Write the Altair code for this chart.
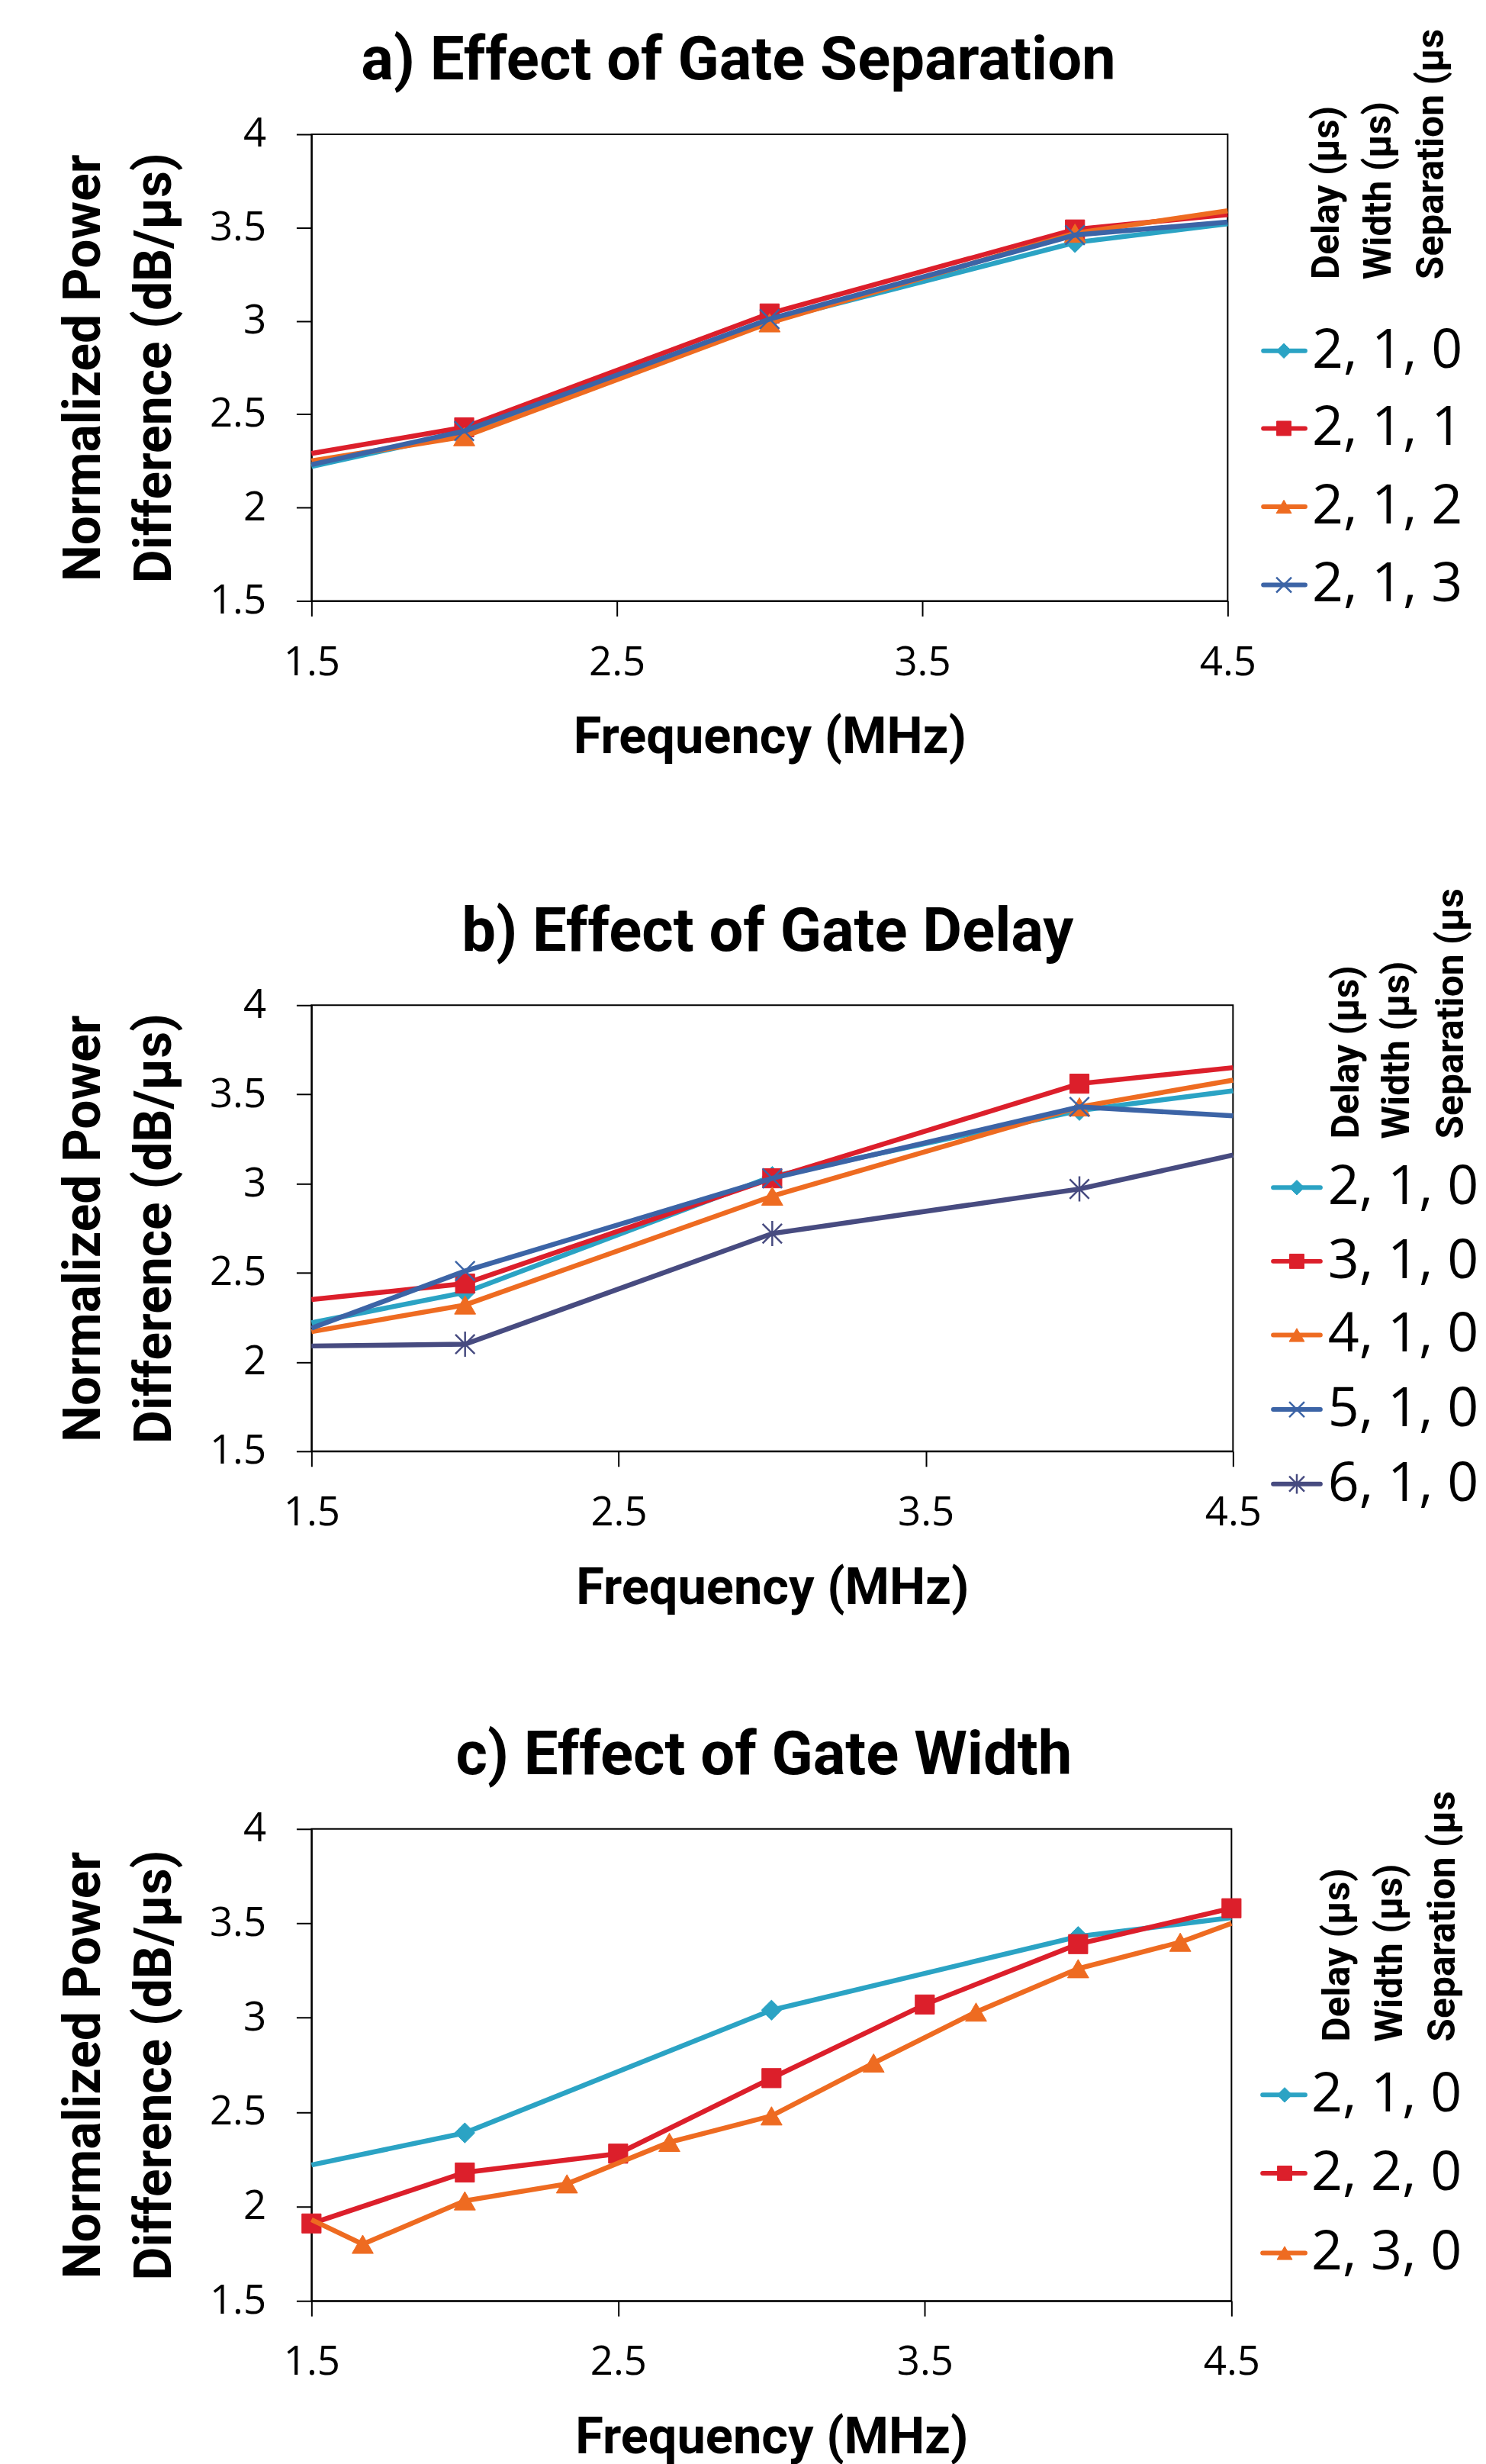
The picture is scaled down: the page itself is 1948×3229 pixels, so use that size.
import altair as alt
import pandas as pd

# ---------------- data ----------------
X_TICKS = [1.5, 2.5, 3.5, 4.5]
Y_TICKS = [1.5, 2.0, 2.5, 3.0, 3.5, 4.0]
HEADERS = ["Delay (µs)", "Width (µs)", "Separation (µs"]

FREQ_5 = [1.5, 2.0, 3.0, 4.0, 4.5]
MARK_5 = [False, True, True, True, False]

# a) Effect of Gate Separation
A_NAMES = ["2, 1, 0", "2, 1, 1", "2, 1, 2", "2, 1, 3"]
A_210 = [2.22, 2.40, 3.00, 3.42, 3.52]
A_211 = [2.29, 2.43, 3.04, 3.49, 3.57]
A_212 = [2.25, 2.38, 2.99, 3.47, 3.59]
A_213 = [2.23, 2.41, 3.01, 3.46, 3.53]

# b) Effect of Gate Delay
B_NAMES = ["2, 1, 0", "3, 1, 0", "4, 1, 0", "5, 1, 0", "6, 1, 0"]
B_210 = [2.22, 2.39, 3.04, 3.41, 3.52]
B_310 = [2.35, 2.44, 3.03, 3.56, 3.65]
B_410 = [2.17, 2.32, 2.93, 3.43, 3.58]
B_510 = [2.19, 2.51, 3.03, 3.43, 3.38]
B_610 = [2.09, 2.10, 2.72, 2.97, 3.16]

# c) Effect of Gate Width
C_NAMES = ["2, 1, 0", "2, 2, 0", "2, 3, 0"]
C_210 = [2.22, 2.39, 3.04, 3.43, 3.53]
C_FREQ_220 = [1.5, 2.0, 2.5, 3.0, 3.5, 4.0, 4.5]
C_220 = [1.91, 2.18, 2.28, 2.68, 3.07, 3.39, 3.58]
C_MARK_220 = [True, True, True, True, True, True, True]
C_FREQ_230 = [1.5, 1.667, 2.0, 2.333, 2.667, 3.0, 3.333, 3.667, 4.0, 4.333, 4.5]
C_230 = [1.93, 1.80, 2.03, 2.12, 2.34, 2.48, 2.76, 3.03, 3.26, 3.40, 3.50]
C_MARK_230 = [False, True, True, True, True, True, True, True, True, True, False]

# ---------------- styles ----------------
CYAN, RED, ORANGE, BLUE, NAVY = "#2BA3C4", "#DC1F2B", "#EE6B21", "#3C64A6", "#474B80"
X_PATH = "M-1,-1L1,1M-1,1L1,-1"
STAR_PATH = "M-1,-1L1,1M-1,1L1,-1M0,-1.3L0,1.3"
BOLDF = "Roboto, sans-serif"
REG = "Open Sans, sans-serif"

STYLE = {
    "diamond": dict(shape="diamond", size=700, lsize=380),
    "square": dict(shape="square", size=640, lsize=360),
    "triangle": dict(shape="triangle-up", size=780, lsize=400),
    "x": dict(shape=X_PATH, size=650, lsize=400),
    "star": dict(shape=STAR_PATH, size=650, lsize=400),
}
LINE_W = 6.5


def series(name, freqs, vals, marks, color, kind):
    return dict(name=name, freqs=freqs, vals=vals, marks=marks, color=color, kind=kind)


def point_mark(kind, color, size):
    st = STYLE[kind]
    return dict(shape=st["shape"], size=size, filled=True, opacity=1,
                fill=color, stroke=color,
                strokeWidth=2.5 if kind in ("x", "star") else 1)


def make_panel(title, title_dx, ser, width, height, leg):
    xenc = alt.X(
        "freq:Q",
        scale=alt.Scale(domain=[1.5, 4.5], nice=False, zero=False),
        axis=alt.Axis(values=X_TICKS, format=".1f", title="Frequency (MHz)"),
    )
    yenc = alt.Y(
        "val:Q",
        scale=alt.Scale(domain=[1.5, 4.0], nice=False, zero=False),
        axis=alt.Axis(values=Y_TICKS, format="~g",
                      title=["Normalized Power", "Difference (dB/µs)"]),
    )
    layers = []
    # data series
    for s in ser:
        df = pd.DataFrame({"freq": s["freqs"], "val": s["vals"], "mark": s["marks"]})
        base = alt.Chart(df)
        layers.append(base.mark_line(color=s["color"], strokeWidth=LINE_W).encode(x=xenc, y=yenc))
        layers.append(
            base.transform_filter("datum.mark")
            .mark_point(**point_mark(s["kind"], s["color"], STYLE[s["kind"]]["size"]))
            .encode(x=xenc, y=yenc)
        )

    # title (as a text mark, placed relative to the plot area)
    tdf = pd.DataFrame({"t": [title]})
    layers.append(
        alt.Chart(tdf).mark_text(align="center", baseline="alphabetic", font=BOLDF,
                                 fontWeight="bold", fontSize=80, color="black")
        .encode(x=alt.value(width / 2 + title_dx), y=alt.value(-72), text="t:N")
    )

    # legend: rotated column headers
    for h, hx in zip(HEADERS, leg["hx"]):
        hdf = pd.DataFrame({"h": [h]})
        layers.append(
            alt.Chart(hdf).mark_text(angle=270, align="left", baseline="middle",
                                     font=BOLDF, fontWeight="bold", fontSize=50,
                                     color="black")
            .encode(x=alt.value(width + hx), y=alt.value(leg["hy"]), text="h:N")
        )
    # legend entries
    for s, ly in zip(ser, leg["y"]):
        edf = pd.DataFrame({"series": [s["name"]]})
        e = alt.Chart(edf)
        layers.append(
            e.mark_rule(strokeWidth=6, strokeCap="round", color=s["color"])
            .encode(x=alt.value(width + leg["line"][0]), x2=alt.value(width + leg["line"][1]),
                    y=alt.value(ly))
        )
        layers.append(
            e.mark_point(**point_mark(s["kind"], s["color"], STYLE[s["kind"]]["lsize"]))
            .encode(x=alt.value(width + leg["mark"]), y=alt.value(ly))
        )
        layers.append(
            e.mark_text(align="left", baseline="middle", font=REG, fontSize=72, color="black")
            .encode(x=alt.value(width + leg["text"]), y=alt.value(ly), text="series:N")
        )

    return alt.layer(*layers).properties(
        width=width, height=height,
        view=alt.ViewBackground(stroke="black", strokeWidth=2),
    )


pa = make_panel(
    "a) Effect of Gate Separation", -41,
    [series(A_NAMES[0], FREQ_5, A_210, MARK_5, CYAN, "diamond"),
     series(A_NAMES[1], FREQ_5, A_211, MARK_5, RED, "square"),
     series(A_NAMES[2], FREQ_5, A_212, MARK_5, ORANGE, "triangle"),
     series(A_NAMES[3], FREQ_5, A_213, MARK_5, BLUE, "x")],
    1206, 614,
    dict(y=[285, 387, 490, 593], line=[47, 102], mark=74, text=111,
         hx=[131, 200, 269], hy=191),
)
pb = make_panel(
    "b) Effect of Gate Delay", -6,
    [series(B_NAMES[0], FREQ_5, B_210, MARK_5, CYAN, "diamond"),
     series(B_NAMES[1], FREQ_5, B_310, MARK_5, RED, "square"),
     series(B_NAMES[2], FREQ_5, B_410, MARK_5, ORANGE, "triangle"),
     series(B_NAMES[3], FREQ_5, B_510, MARK_5, BLUE, "x"),
     series(B_NAMES[4], FREQ_5, B_610, MARK_5, NAVY, "star")],
    1213, 587,
    dict(y=[240, 337, 434, 532, 630], line=[53, 115], mark=84, text=125,
         hx=[150, 217, 288], hy=176),
)
pc = make_panel(
    "c) Effect of Gate Width", -10,
    [series(C_NAMES[0], FREQ_5, C_210, MARK_5, CYAN, "diamond"),
     series(C_NAMES[1], C_FREQ_220, C_220, C_MARK_220, RED, "square"),
     series(C_NAMES[2], C_FREQ_230, C_230, C_MARK_230, ORANGE, "triangle")],
    1211, 621,
    dict(y=[350, 453, 558], line=[41, 97], mark=70, text=105,
         hx=[140, 210, 279], hy=280),
)

top_two = alt.vconcat(pa, pb, spacing=163)
chart = (
    alt.vconcat(top_two, pc, spacing=146)
    .properties(padding={"left": 68, "top": 22, "right": 0, "bottom": 0},
                background="white")
    .configure_axis(labelFont=REG, labelFontSize=53, labelColor="black",
                    tickColor="black", tickSize=20, tickWidth=2,
                    domainColor="black", domainWidth=2, grid=False,
                    titleFont=BOLDF, titleFontWeight="bold", titleColor="black",
                    labelOverlap=False)
    .configure_axisX(labelPadding=35, titleFontSize=67, titlePadding=39, labelFlush=False)
    .configure_axisY(labelPadding=40, titleFontSize=68, titleLineHeight=93,
                     titlePadding=37)
)

chart.save("out.html", embed_options={"renderer": "svg", "actions": False})
